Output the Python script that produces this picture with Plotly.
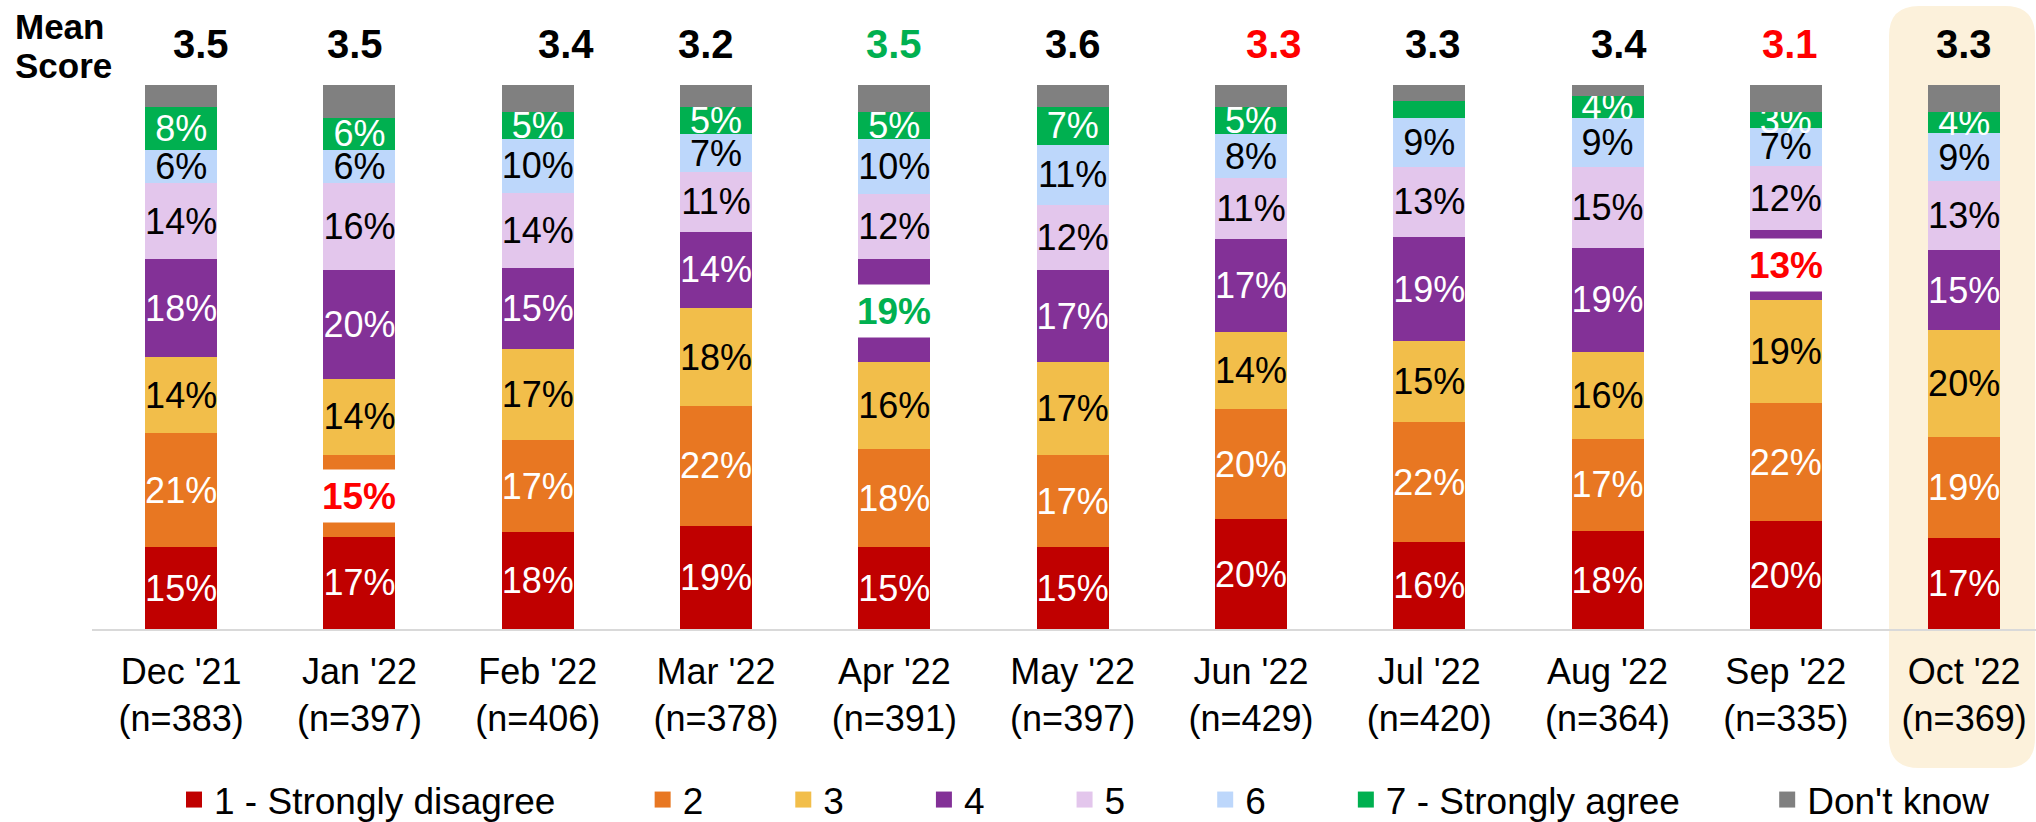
import plotly.graph_objects as go

# ---------------- data ----------------
categories = ["Dec '21", "Jan '22", "Feb '22", "Mar '22", "Apr '22", "May '22",
              "Jun '22", "Jul '22", "Aug '22", "Sep '22", "Oct '22"]
sample_sizes = [383, 397, 406, 378, 391, 397, 429, 420, 364, 335, 369]
mean_scores = [3.5, 3.5, 3.4, 3.2, 3.5, 3.6, 3.3, 3.3, 3.4, 3.1, 3.3]
mean_colors = ["#000000", "#000000", "#000000", "#000000", "#00B050", "#000000",
               "#FF0000", "#000000", "#000000", "#FF0000", "#000000"]

series_names = ["1 - Strongly disagree", "2", "3", "4", "5", "6",
                "7 - Strongly agree", "Don't know"]
s1 = [15, 17, 18, 19, 15, 15, 20, 16, 18, 20, 17]
s2 = [21, 15, 17, 22, 18, 17, 20, 22, 17, 22, 19]
s3 = [14, 14, 17, 18, 16, 17, 14, 15, 16, 19, 20]
s4 = [18, 20, 15, 14, 19, 17, 17, 19, 19, 13, 15]
s5 = [14, 16, 14, 11, 12, 12, 11, 13, 15, 12, 13]
s6 = [6, 6, 10, 7, 10, 11, 8, 9, 9, 7, 9]
s7 = [8, 6, 5, 5, 5, 7, 5, 3, 4, 3, 4]
dont_know = [4, 6, 5, 4, 5, 4, 4, 3, 2, 5, 5]
series_values = [s1, s2, s3, s4, s5, s6, s7, dont_know]

# labels shown on a white box in bold colour: (category, series index, colour)
highlight_labels = [("Jan '22", 1, "#FF0000"), ("Apr '22", 3, "#00B050"), ("Sep '22", 3, "#FF0000")]
# segments whose label is not shown
hidden_labels = [("Jul '22", 6)]

# ---------------- style ----------------
colors = ["#C00000", "#E87722", "#F2BE4A", "#833197", "#E3C6EC", "#BDD7FB", "#00B050", "#808080"]
text_colors = ["white", "white", "black", "white", "black", "black", "white", "white"]
FONT = "Liberation Sans, Arial, sans-serif"
mean_xshift = [20, -4, 28, -10, 0, 0, 23, 4, 11, 4, 0]

W, H = 2036, 822
L, R, T, B = 92, 0, 85, 0
PW, PH = W - L - R, H - T - B
AXIS_PY = 629                      # pixel row of the category axis
unit = 178.3
xr = [-0.5, -0.5 + PW / unit]


def px_x(px):
    return (px - L) / PW


def px_y(py):
    return (H - B - py) / PH


fig = go.Figure()
hl_set = {(c, k) for c, k, _ in highlight_labels}
hid_set = set(hidden_labels)
for k, (name, vals) in enumerate(zip(series_names, series_values)):
    texts = []
    for c, v in zip(categories, vals):
        if k == 7 or (c, k) in hl_set or (c, k) in hid_set:
            texts.append("")
        else:
            texts.append(f"{v}%")
    fig.add_trace(go.Bar(
        x=categories, y=vals, name=name, showlegend=False, legendgroup=name,
        marker=dict(color=colors[k], line=dict(width=0)),
        text=texts, textposition="inside", insidetextanchor="middle",
        textangle=0, constraintext="none",
        textfont=dict(family=FONT, size=36, color=text_colors[k]),
        hoverinfo="skip",
    ))

# legend entries (square swatches)
for k, name in enumerate(series_names):
    if k == 7:
        pad = ""
    elif len(name) > 1:
        pad = "\u00a0" * 8
    else:
        pad = "\u00a0" * 7 + "\u200a"
    fig.add_trace(go.Scatter(
        x=[None], y=[None], mode="markers", name=name + pad, legendgroup=name,
        marker=dict(symbol="square", size=16, color=colors[k], line=dict(width=0)),
        showlegend=True, hoverinfo="skip",
    ))

# highlighted labels on white boxes
for c, k, col in highlight_labels:
    i = categories.index(c)
    total = sum(v[i] for v in series_values)
    start = sum(series_values[j][i] for j in range(k))
    v = series_values[k][i]
    yc = (start + v / 2) / total * 100
    fig.add_annotation(x=c, y=yc, xref="x", yref="y", text=f"<b>{v}%</b>",
                       showarrow=False, bgcolor="white", width=80, height=52,
                       borderpad=0,
                       font=dict(family=FONT, size=37, color=col))

# mean scores
for i, (c, m) in enumerate(zip(categories, mean_scores)):
    fig.add_annotation(x=c, y=px_y(44), xref="x", yref="paper", text=f"<b>{m:.1f}</b>",
                       showarrow=False, xshift=mean_xshift[i], yanchor="middle",
                       font=dict(family=FONT, size=40, color=mean_colors[i]))

fig.add_annotation(x=px_x(13), y=px_y(27), xref="paper", yref="paper",
                   text="<b>Mean</b>", showarrow=False, xanchor="left",
                   yanchor="middle", font=dict(family=FONT, size=35, color="black"))
fig.add_annotation(x=px_x(13), y=px_y(65.5), xref="paper", yref="paper",
                   text="<b>Score</b>", showarrow=False, xanchor="left",
                   yanchor="middle", font=dict(family=FONT, size=35, color="black"))

# highlight box behind latest month
x0, x1 = px_x(1889), px_x(2035)
y0, y1 = px_y(768), px_y(6)
rx, ry = 30 / PW, 30 / PH
path = (f"M{x0+rx},{y1} L{x1-rx},{y1} Q{x1},{y1} {x1},{y1-ry} L{x1},{y0+ry} "
        f"Q{x1},{y0} {x1-rx},{y0} L{x0+rx},{y0} Q{x0},{y0} {x0},{y0+ry} "
        f"L{x0},{y1-ry} Q{x0},{y1} {x0+rx},{y1} Z")
fig.add_shape(type="path", path=path, xref="paper", yref="paper",
              fillcolor="#FCF1DB", line=dict(width=0), layer="below")

ticktext = [f"{c}<br>(n={n})" for c, n in zip(categories, sample_sizes)]
fig.update_layout(
    width=W, height=H, margin=dict(l=L, r=R, t=T, b=B, pad=0, autoexpand=False),
    barmode="stack", barnorm="percent", bargap=0.596,
    paper_bgcolor="white", plot_bgcolor="rgba(0,0,0,0)",
    font=dict(family=FONT, size=36, color="black"),
    xaxis=dict(range=xr, tickmode="array", tickvals=categories, ticktext=ticktext,
               showline=True, linecolor="#D9D9D9", linewidth=2, ticks="",
               ticklabelstandoff=10,
               showgrid=False, zeroline=False, fixedrange=True, automargin=False,
               tickfont=dict(family=FONT, size=36, color="black")),
    yaxis=dict(range=[0, 100], domain=[px_y(AXIS_PY), 1], visible=False,
               showgrid=False, zeroline=False, fixedrange=True, automargin=False),
    legend=dict(orientation="h", x=px_x(174), xanchor="left", y=px_y(800),
                yanchor="middle", bgcolor="rgba(0,0,0,0)", traceorder="normal",
                itemsizing="trace",
                font=dict(family=FONT, size=37, color="black")),
    showlegend=True,
)

fig.write_html("out.html", config={"displayModeBar": False},
               post_script="document.body.style.margin='0';document.body.style.overflow='hidden';")
